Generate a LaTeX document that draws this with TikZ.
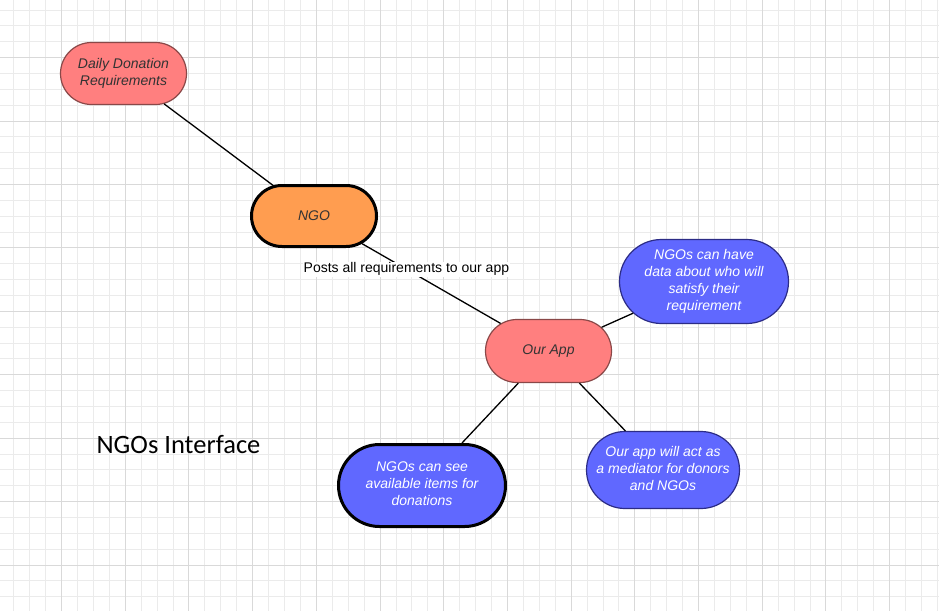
\documentclass[tikz,border=0pt]{standalone}
\usepackage{fontspec}
\usetikzlibrary{shapes.misc}
\setmainfont{Liberation Sans}
\newfontfamily\calibrilike{Carlito}
\begin{document}
\definecolor{gridminor}{HTML}{EBEBEB}
\definecolor{gridmajor}{HTML}{D9D9D9}
\definecolor{salmon}{HTML}{FF7F7F}
\definecolor{salmonedge}{HTML}{8A4848}
\definecolor{orangefill}{HTML}{FF9D50}
\definecolor{bluefill}{HTML}{6068FF}
\definecolor{blueedge}{HTML}{2C2C86}
\definecolor{darktext}{HTML}{333333}
\begin{tikzpicture}[x=1pt,y=-1pt,
  minorline/.style={gridminor,line width=1pt},
  majorline/.style={gridmajor,line width=1pt},
  pill/.style={rounded rectangle, align=center, inner sep=0pt,
    font=\itshape\fontsize{14}{17}\selectfont},
  pinkpill/.style={pill, fill=salmon, draw=salmonedge, line width=1.2pt, text=darktext},
  bluepill/.style={pill, fill=bluefill, draw=blueedge, line width=1.2pt, text=white},
  boldedge/.style={draw=black, line width=3pt},
  link/.style={black, line width=1.3pt}
]
\useasboundingbox (0,0) rectangle (939,611);
\fill[white] (0,0) rectangle (939,611);

% background grid, snapped to whole pixels
\foreach \i in {0,...,58} \draw[minorline] ({round(13.3+15.925*\i)+0.5},0) -- ++(0,611);
\foreach \j in {0,...,38} \draw[minorline] (0,{round(9.5+15.86*\j)+0.5}) -- ++(939,0);
\foreach \i in {0,...,14} \draw[majorline] ({round(61.075+63.7*\i)+0.5},0) -- ++(0,611);
\foreach \j in {0,...,9} \draw[majorline] (0,{round(57.08+63.44*\j)+0.5}) -- ++(939,0);

% nodes
\node[pinkpill, minimum width=126pt, minimum height=62pt] (daily) at (123.5,73.5)
  {Daily Donation\\Requirements\rule[-2pt]{0pt}{0pt}};
\node[pill, fill=orangefill, boldedge, text=darktext,
  minimum width=125pt, minimum height=61pt] (ngo) at (314,216) {NGO};
\node[pinkpill, minimum width=126pt, minimum height=63pt] (app) at (548.5,351) {Our App};
\node[bluepill, minimum width=169pt, minimum height=84pt] (have) at (704,281.5)
  {NGOs can have\\data about who will\\satisfy their\\requirement};
\node[pill, fill=bluefill, boldedge, text=white,
  minimum width=167pt, minimum height=82pt] (see) at (422,485.5)
  {NGOs can see\\available items for\\donations\rule[-3pt]{0pt}{0pt}};
\node[bluepill, minimum width=153pt, minimum height=77pt] (mediator) at (663,470)
  {Our app will act as\\a mediator for donors\\and NGOs\rule[-3pt]{0pt}{0pt}};

% connectors
\draw[link] (daily) -- (ngo);
\draw[link] (ngo) -- node[pos=0.32, fill=white, inner sep=1pt, text=black,
  font=\fontsize{14}{17}\selectfont] (posts) {Posts all requirements to our app} (app);
\draw[link] (app) -- (have);
\draw[link] (app) -- (see);
\draw[link] (app) -- (mediator);

% caption
\node[font=\calibrilike\fontsize{26.5}{30}\selectfont, text=black] (title) at (178.5,445)
  {NGOs Interface};
\end{tikzpicture}
\end{document}
